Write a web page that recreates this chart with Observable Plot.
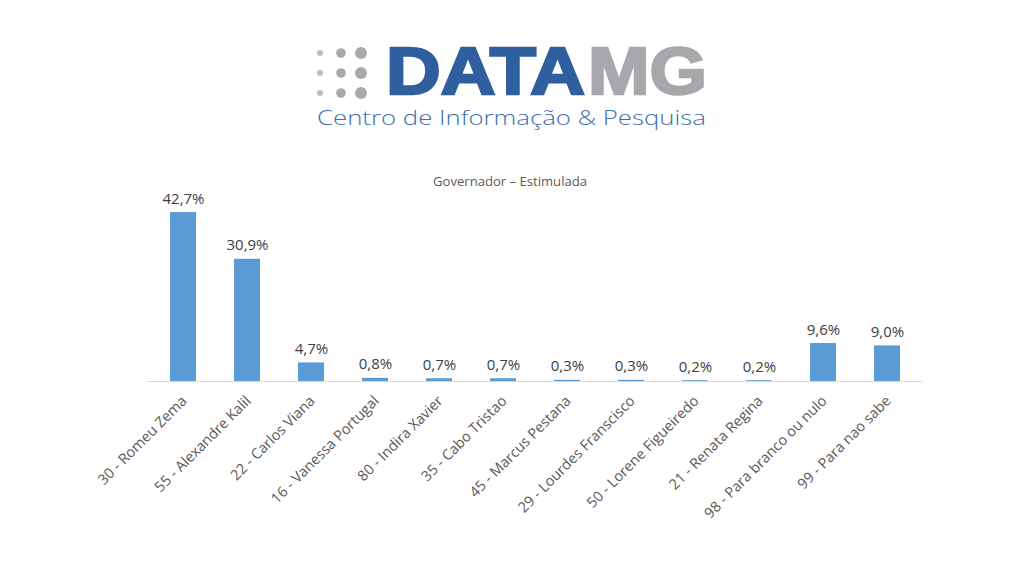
<!DOCTYPE html>
<html>
<head>
<meta charset="utf-8">
<script src="https://cdn.jsdelivr.net/npm/d3@7"></script>
<script src="https://cdn.jsdelivr.net/npm/@observablehq/plot@0.6"></script>
<style>
  html, body { margin: 0; padding: 0; background: #fff; }
  #wrap { position: relative; width: 1024px; height: 576px; overflow: hidden; }
  #chart { position: absolute; left: 0; top: 0; }
  #dots { position: absolute; left: 0; top: 0; pointer-events: none; }
  .lt { position: absolute; white-space: nowrap; transform-origin: 0 0; }
  #data { left: 386px; top: 47px; font: bold 67px/48px "Liberation Sans", Arial, sans-serif; color: #2f5f9e; -webkit-text-stroke: 2.5px #2f5f9e; }
  #mg { left: 588px; top: 47px; font: bold 67px/48px "Liberation Sans", Arial, sans-serif; color: #a6a8ab; -webkit-text-stroke: 2.5px #a6a8ab; }
  #sub { left: 317px; top: 109px; font: 300 21px/16px "Open Sans", sans-serif; color: #3f6fae; }
  #title { left: 433px; top: 176px; font: 12px/12px "Open Sans", sans-serif; color: #595959; }
</style>
</head>
<body>
<div id="wrap">
  <div id="chart"></div>
  <svg id="dots" width="1024" height="576" xmlns="http://www.w3.org/2000/svg">
    <g fill="#bdbdbd">
      <circle cx="320" cy="53" r="3"/><circle cx="320" cy="73" r="3"/><circle cx="320" cy="93" r="3"/>
    </g>
    <g fill="#a9a9a9">
      <circle cx="341" cy="53" r="4.8"/><circle cx="341" cy="73" r="4.8"/><circle cx="341" cy="93" r="4.8"/>
      <circle cx="361" cy="53" r="6"/><circle cx="361" cy="73" r="6"/><circle cx="361" cy="93" r="6"/>
    </g>
  </svg>
  <div class="lt" id="data" data-w="199">DATA</div>
  <div class="lt" id="mg" data-w="119">MG</div>
  <div class="lt" id="sub" data-w="389">Centro de Informação &amp; Pesquisa</div>
  <div class="lt" id="title" data-w="154">Governador – Estimulada</div>
</div>
<script>
const categories = [
  "30 - Romeu Zema",
  "55 - Alexandre Kalil",
  "22 - Carlos Viana",
  "16 - Vanessa Portugal",
  "80 - Indira Xavier",
  "35 - Cabo Tristao",
  "45 - Marcus Pestana",
  "29 - Lourdes Franscisco",
  "50 - Lorene Figueiredo",
  "21 - Renata Regina",
  "98 - Para branco ou nulo",
  "99 - Para nao sabe"
];
const values = [42.7, 30.9, 4.7, 0.8, 0.7, 0.7, 0.3, 0.3, 0.2, 0.2, 9.6, 9.0];

const data = categories.map((c, i) => ({category: c, value: values[i]}));
const fmt = v => v.toFixed(1).replace(".", ",") + "%";

const chart = Plot.plot({
  width: 1024,
  height: 576,
  marginLeft: 147,
  marginRight: 102,
  marginTop: 203,
  marginBottom: 195,
  style: {fontFamily: "Open Sans, sans-serif", background: "transparent"},
  x: {domain: categories, paddingInner: 0.6, paddingOuter: 0.3, label: null},
  y: {domain: [0, 45], axis: null},
  marks: [
    Plot.barY(data, {x: "category", y: "value", fill: "#5b9bd5"}),
    Plot.ruleY([0], {stroke: "#d9d9d9", strokeWidth: 1}),
    Plot.text(data, {x: "category", y: "value", text: d => fmt(d.value), dy: -9, lineAnchor: "bottom", fontSize: 15, fill: "#404040"}),
    Plot.axisX({tickRotate: -45, tickSize: 0, tickPadding: 17, dx: 1, fontSize: 14.5, color: "#595959", label: null})
  ]
});
document.getElementById("chart").appendChild(chart);

// fit the header texts to their measured widths
document.querySelectorAll(".lt").forEach(el => {
  const w = el.getBoundingClientRect().width;
  const target = +el.dataset.w;
  el.style.transform = `scaleX(${target / w})`;
});
</script>
</body>
</html>
